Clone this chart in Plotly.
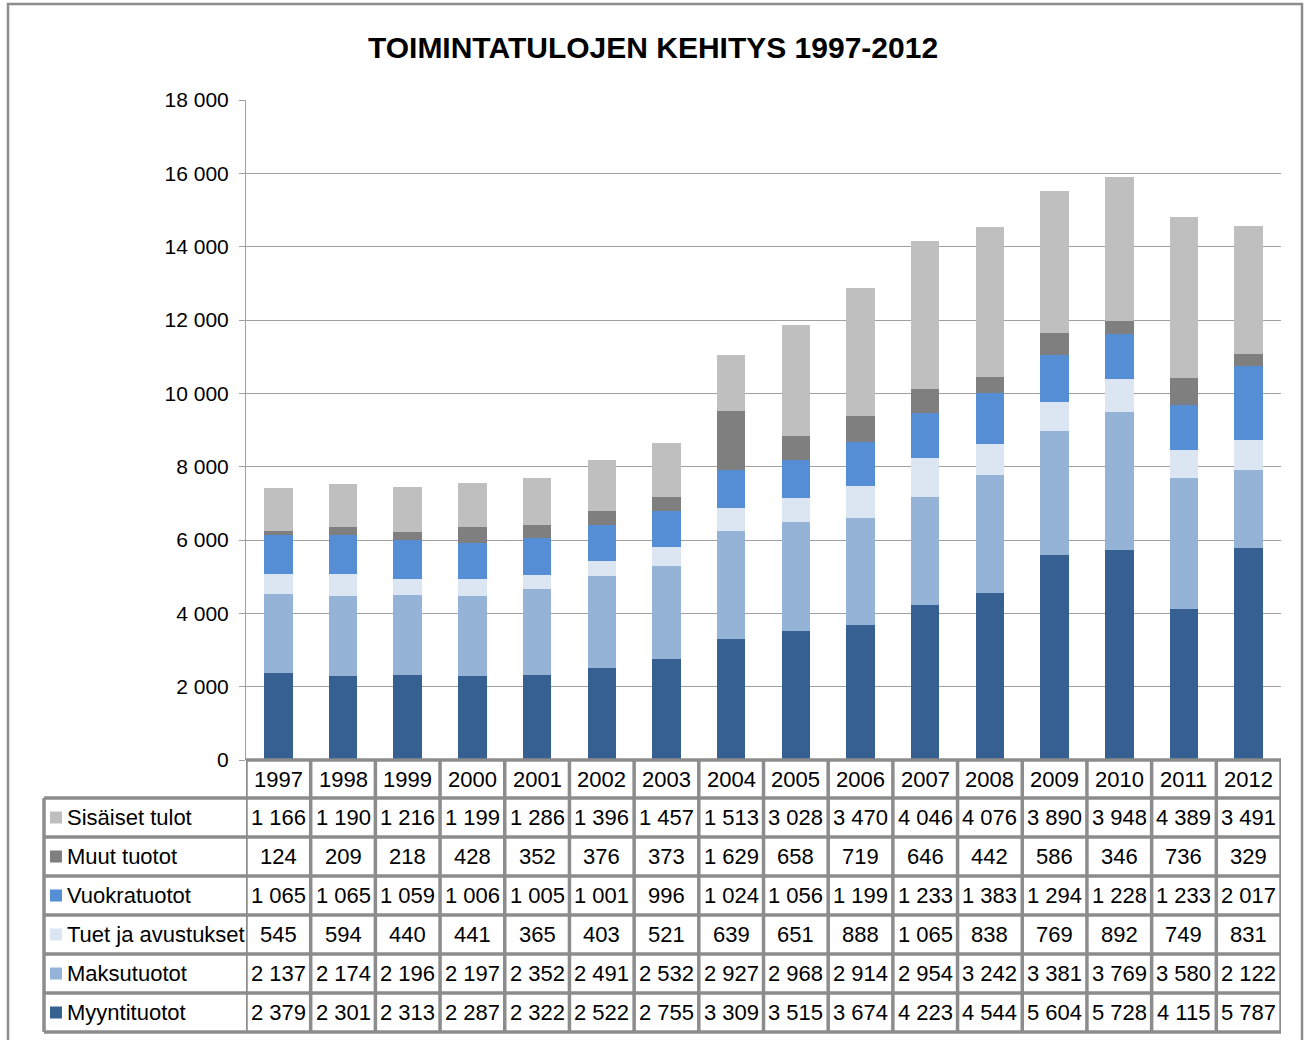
import plotly.graph_objects as go

years = [str(y) for y in range(1997, 2013)]

# Series (bottom to top in the stack)
myyntituotot = [2379, 2301, 2313, 2287, 2322, 2522, 2755, 3309, 3515, 3674, 4223, 4544, 5604, 5728, 4115, 5787]
maksutuotot = [2137, 2174, 2196, 2197, 2352, 2491, 2532, 2927, 2968, 2914, 2954, 3242, 3381, 3769, 3580, 2122]
tuet_ja_avustukset = [545, 594, 440, 441, 365, 403, 521, 639, 651, 888, 1065, 838, 769, 892, 749, 831]
vuokratuotot = [1065, 1065, 1059, 1006, 1005, 1001, 996, 1024, 1056, 1199, 1233, 1383, 1294, 1228, 1233, 2017]
muut_tuotot = [124, 209, 218, 428, 352, 376, 373, 1629, 658, 719, 646, 442, 586, 346, 736, 329]
sisaiset_tulot = [1166, 1190, 1216, 1199, 1286, 1396, 1457, 1513, 3028, 3470, 4046, 4076, 3890, 3948, 4389, 3491]

series_names = ["Myyntituotot", "Maksutuotot", "Tuet ja avustukset", "Vuokratuotot", "Muut tuotot", "Sisäiset tulot"]
series_values = [myyntituotot, maksutuotot, tuet_ja_avustukset, vuokratuotot, muut_tuotot, sisaiset_tulot]
series_colors = ["#376092", "#95B3D7", "#DCE6F2", "#558ED5", "#7F7F7F", "#BFBFBF"]

title_text = "TOIMINTATULOJEN KEHITYS 1997-2012"

W, H = 1306, 1040
PL, PR, PT, PB = 246, 1281, 100, 760  # plot area in pixels
PH = PB - PT
PW = PR - PL


def py(p):
    return (PB - p) / PH


def px(p):
    return (p - PL) / PW


TABLE_FONT = "Liberation Sans, Arial"
AX_FONT = "Liberation Sans, Arial"
TFS = 22

fig = go.Figure()
for name, vals, col in zip(series_names, series_values, series_colors):
    fig.add_trace(go.Bar(x=years, y=vals, name=name, marker=dict(color=col, line=dict(width=0)),
                         showlegend=False))

shapes = []
annotations = []
border = dict(color="#8C8C8C", width=3.5)

# Table geometry (pixel rows)
header_top = 760
row_lines = [798, 837, 876, 915, 954, 993, 1032]
n = len(years)

# horizontal lines
shapes.append(dict(type="line", xref="x", yref="paper", x0=-0.5, x1=n - 0.5,
                   y0=py(header_top), y1=py(header_top), line=border))
for yl in row_lines:
    shapes.append(dict(type="line", xref="paper", yref="paper", x0=px(44), x1=1,
                       y0=py(yl), y1=py(yl), line=border))
# vertical lines
for k in range(n + 1):
    shapes.append(dict(type="line", xref="x", yref="paper", x0=k - 0.5, x1=k - 0.5,
                       y0=py(header_top), y1=py(row_lines[-1]), line=border))
shapes.append(dict(type="line", xref="paper", yref="paper", x0=px(44), x1=px(44),
                   y0=py(row_lines[0]), y1=py(row_lines[-1]), line=border))

# outer chart border
shapes.append(dict(type="rect", xref="paper", yref="paper", x0=px(8), x1=px(1302),
                   y0=py(1045), y1=py(4), line=dict(color="#8C8C8C", width=2.5)))

# year header
for i, yr in enumerate(years):
    annotations.append(dict(x=i, y=py((header_top + row_lines[0]) / 2), xref="x", yref="paper",
                            text=yr, showarrow=False, xanchor="center", yanchor="middle",
                            font=dict(family=TABLE_FONT, size=TFS, color="#000")))

# rows (top to bottom: reverse stacking order)
for r, idx in enumerate(range(len(series_names) - 1, -1, -1)):
    yc = (row_lines[r] + row_lines[r + 1]) / 2
    shapes.append(dict(type="rect", xref="paper", yref="paper", x0=px(50), x1=px(62),
                       y0=py(yc + 6), y1=py(yc - 6), line=dict(width=0),
                       fillcolor=series_colors[idx]))
    annotations.append(dict(x=px(65), y=py(yc), xref="paper", yref="paper",
                            text=series_names[idx], showarrow=False, xanchor="left", yanchor="middle",
                            font=dict(family=TABLE_FONT, size=TFS, color="#000")))
    for i, v in enumerate(series_values[idx]):
        annotations.append(dict(x=i, y=py(yc), xref="x", yref="paper",
                                text=f"{v:,}".replace(",", " "), showarrow=False,
                                xanchor="center", yanchor="middle",
                                font=dict(family=TABLE_FONT, size=TFS, color="#000")))

fig.update_layout(
    width=W, height=H,
    margin=dict(l=PL, r=W - PR, t=PT, b=H - PB),
    paper_bgcolor="white", plot_bgcolor="white",
    barmode="stack", bargap=0.56,
    separators=", ",
    title=dict(text="<b>" + title_text + "</b>", x=0.5, xref="container", xanchor="center",
               y=1 - 47 / H, yref="container", yanchor="middle",
               font=dict(family=AX_FONT, size=30, color="#000")),
    xaxis=dict(type="category", range=[-0.5, n - 0.5], showticklabels=False, showgrid=False,
               showline=False, zeroline=False, ticks=""),
    yaxis=dict(range=[0, 18000], tickvals=list(range(0, 18001, 2000)), tickformat=",d",
               showgrid=True, gridcolor="#A0A0A0", gridwidth=1, zeroline=False,
               showline=True, linecolor="#A0A0A0", linewidth=1,
               ticks="outside", ticklen=6, tickcolor="#A0A0A0", ticklabelstandoff=6,
               tickfont=dict(family=AX_FONT, size=21, color="#000")),
    shapes=shapes,
    annotations=annotations,
)

fig.write_html("out.html", config={"displayModeBar": False},
               post_script="document.body.style.margin='0';document.body.style.overflow='hidden';")
